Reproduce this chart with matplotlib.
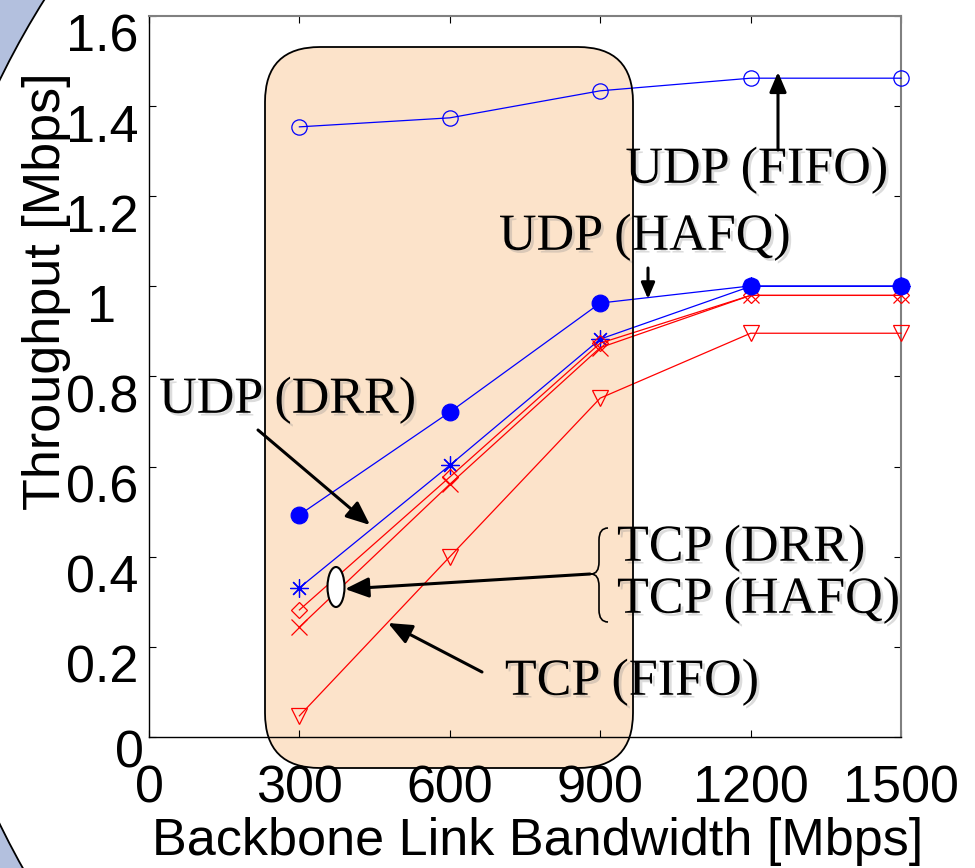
import matplotlib
matplotlib.use("Agg")
import matplotlib.pyplot as plt
import matplotlib.patheffects as pe
from matplotlib.patches import Ellipse, FancyBboxPatch, PathPatch
from matplotlib.path import Path
from matplotlib.transforms import Affine2D, ScaledTranslation

# throughput vs backbone bandwidth
bandwidth = [300, 600, 900, 1200, 1500]
udp_fifo = [1.354, 1.374, 1.434, 1.462, 1.462]
udp_hafq = [0.493, 0.721, 0.963, 1.001, 1.001]
udp_drr = [0.331, 0.603, 0.883, 1.000, 1.000]
tcp_drr = [0.282, 0.577, 0.874, 0.980, 0.980]
tcp_hafq = [0.244, 0.561, 0.864, 0.980, 0.980]
tcp_fifo = [0.047, 0.400, 0.752, 0.896, 0.896]

xticks = [0, 300, 600, 900, 1200, 1500]
yticks = [0, 0.2, 0.4, 0.6, 0.8, 1.0, 1.2, 1.4, 1.6]
ytick_labels = ["", "0.2", "0.4", "0.6", "0.8", "1", "1.2", "1.4", "1.6"]

SANS = "Liberation Sans"
SERIF = "Liberation Serif"
FS = 37.5

W, H = 975, 868
fig = plt.figure(figsize=(W / 100, H / 100), dpi=100, facecolor="#B3C0DE")
# pixel coords (origin top-left) for the hand-placed slide decorations
px = Affine2D().scale(1 / W, -1 / H).translate(0, 1) + fig.transFigure

# slide background: big white disc with a dark rim
fig.add_artist(Ellipse((764, 452), 1700, 1700, transform=px, fc="white", ec="k",
                       lw=1.3, zorder=0))

ax = fig.add_axes([149 / W, 1 - 737 / H, 752 / W, 721 / H])
ax.set_xlim(0, 1500)
ax.set_ylim(0, 1.6)

# highlighted region (peach rounded box), fill below lines, rim above text
box_kw = dict(boxstyle="round,pad=0,rounding_size=55", transform=px, clip_on=False)
ax.add_patch(FancyBboxPatch((265, 47), 368, 721, fc="#FCE3CA", ec="none", zorder=1.2, **box_kw))
ax.add_patch(FancyBboxPatch((265, 47), 368, 721, fc="none", ec="k", lw=1.3, zorder=5, **box_kw))

blue, red = "#0000FF", "#FF0000"
line_kw = dict(lw=0.9, mew=0.9, zorder=3, clip_on=False)
ax.plot(bandwidth, udp_fifo, color=blue, marker="o", ms=11, mfc="none", **line_kw)
ax.plot(bandwidth, udp_drr, color=blue, marker=(8, 2, 0), ms=13, **line_kw)
ax.plot(bandwidth, tcp_drr, color=red, marker="D", ms=8, mfc="none", **line_kw)
ax.plot(bandwidth, tcp_hafq, color=red, marker="x", ms=12, **line_kw)
ax.plot(bandwidth, tcp_fifo, color=red, marker="v", ms=12, mfc="none", **line_kw)
ax.plot(bandwidth, udp_hafq, color=blue, marker="o", ms=12, **line_kw)

# axes styling (MATLAB-like box)
ax.set_xticks(xticks)
ax.set_yticks(yticks)
ax.set_yticklabels(ytick_labels)
ax.tick_params(direction="in", length=5, width=0.8, top=True, right=True, labelsize=FS)
ax.tick_params(axis="x", pad=20)
ax.tick_params(axis="y", pad=34)
for lab in ax.get_xticklabels() + ax.get_yticklabels():
    lab.set_fontfamily(SANS)
for lab in ax.get_yticklabels():
    lab.set_ha("center")
    lab.set_transform(lab.get_transform() + ScaledTranslation(0, -0.17, fig.dpi_scale_trans))
ax.text(129, 754, "0", transform=px, ha="center", va="center", fontsize=FS, family=SANS)
for side in ("left", "bottom"):
    ax.spines[side].set_color("k")
    ax.spines[side].set_linewidth(1.0)
for side in ("right", "top"):
    ax.spines[side].set_color("#808080")
    ax.spines[side].set_linewidth(1.5)

ax.set_xlabel("Backbone Link Bandwidth [Mbps]", fontsize=FS, family=SANS)
ax.set_ylabel("Throughput [Mbps]", fontsize=FS, family=SANS)
ax.xaxis.set_label_coords(538, 817, transform=px)
ax.yaxis.set_label_coords(71, 291, transform=px)

# callouts
shadow = [pe.withSimplePatchShadow(offset=(2, -2), shadow_rgbFace="0.55", alpha=0.3)]
txt_kw = dict(transform=px, fontsize=FS, family=SERIF, zorder=4, path_effects=shadow)
ax.text(757, 170, "UDP (FIFO)", ha="center", va="center", **txt_kw)
ax.text(645, 237, "UDP (HAFQ)", ha="center", va="center", **txt_kw)
ax.text(288, 400, "UDP (DRR)", ha="center", va="center", **txt_kw)
ax.text(617, 548, "TCP (DRR)", ha="left", va="center", **txt_kw)
ax.text(617, 600, "TCP (HAFQ)", ha="left", va="center", **txt_kw)
ax.text(632, 682, "TCP (FIFO)", ha="center", va="center", **txt_kw)


def arrow(tail, tip, ms=36, lw=2.2):
    ax.annotate("", xy=tip, xycoords=px, xytext=tail, textcoords=px, annotation_clip=False,
                arrowprops=dict(arrowstyle="-|>,head_length=0.4,head_width=0.17",
                                mutation_scale=ms, color="k", lw=lw,
                                shrinkA=0, shrinkB=0), zorder=4)


arrow((778, 150), (778, 72), ms=30)
arrow((648, 268), (648, 299), ms=24)
arrow((258, 430), (370, 525))
arrow((590, 574), (345, 589))
arrow((482, 672), (388, 623))

# curly brace grouping the two TCP labels
verts = [(608, 528), (599, 528), (599, 540), (599, 562), (599, 574), (591, 574),
         (599, 574), (599, 586), (599, 610), (599, 622), (608, 622)]
codes = [Path.MOVETO, Path.CURVE3, Path.CURVE3, Path.LINETO, Path.CURVE3, Path.CURVE3,
         Path.CURVE3, Path.CURVE3, Path.LINETO, Path.CURVE3, Path.CURVE3]
ax.add_patch(PathPatch(Path(verts, codes), transform=px, fc="none", ec="k", lw=1.2,
                       clip_on=False, zorder=4))
ax.add_patch(Ellipse((336, 587), 17, 40, transform=px, fc="white", ec="k", lw=1.5,
                     clip_on=False, zorder=4))

fig.savefig("out.png", dpi=100, facecolor=fig.get_facecolor())
